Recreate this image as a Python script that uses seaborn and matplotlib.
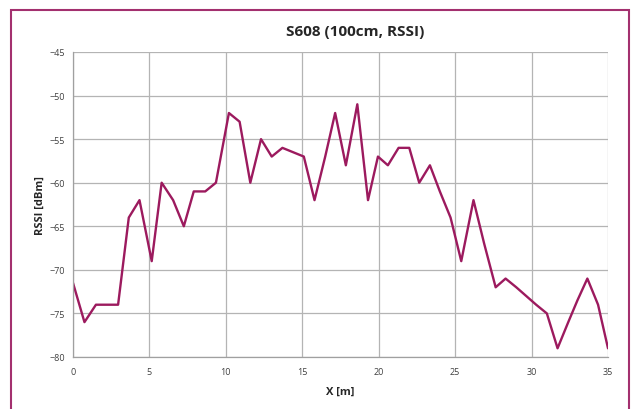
import numpy as np
import pandas as pd
import matplotlib
matplotlib.use("Agg")
import matplotlib.pyplot as plt
import seaborn as sns
from matplotlib.patches import Rectangle

# Distance along the path [m] and measured RSSI [dBm]
x_m = [0, 0.75, 1.5, 2.2, 2.95, 3.65, 4.35, 5.15, 5.8, 6.55,
       7.25, 7.9, 8.65, 9.35, 10.2, 10.9, 11.6, 12.3, 13.0, 13.7,
       14.4, 15.1, 15.8, 16.5, 17.15, 17.85, 18.6, 19.3, 19.95, 20.6,
       21.3, 22.0, 22.65, 23.35, 24.0, 24.7, 25.4, 26.2, 26.9, 27.65,
       28.3, 29.0, 29.65, 30.3, 31.0, 31.7, 32.4, 33.0, 33.65, 34.35,
       35.0, 35.7]
rssi = [-71.5, -76, -74, -74, -74, -64, -62, -69, -60, -62,
        -65, -61, -61, -60, -52, -53, -60, -55, -57, -56,
        -56.5, -57, -62, -57, -52, -58, -51, -62, -57, -58,
        -56, -56, -60, -58, -61, -64, -69, -62, -67, -72,
        -71, -72, -73, -74, -75, -79, -76, -73.5, -71, -74,
        -79, -73]

x_ticks = [0, 5, 10, 15, 20, 25, 30, 35]
y_ticks = [-45, -50, -55, -60, -65, -70, -75, -80]

df = pd.DataFrame({"X": x_m, "RSSI": rssi})

sns.set_style("white")
plt.rcParams["font.family"] = ["Open Sans", "DejaVu Sans"]

line_color = "#9c1a5e"
grid_color = "#b4b4b4"

fig = plt.figure(figsize=(6.32, 4.10), dpi=100)
ax = fig.add_axes([73 / 632, 1 - 358 / 410, 535 / 632, 305 / 410])

sns.lineplot(data=df, x="X", y="RSSI", ax=ax, color=line_color, linewidth=1.7, sort=False)

ax.set_xlim(0, 35)
ax.set_ylim(-80, -45)
ax.set_xticks(x_ticks)
ax.set_yticks(y_ticks)
ax.grid(True, color=grid_color, linewidth=0.9)
ax.set_axisbelow(True)
for side in ["top", "right"]:
    ax.spines[side].set_visible(False)
for side in ["left", "bottom"]:
    ax.spines[side].set_color("#a0a0a0")
    ax.spines[side].set_linewidth(0.9)
ax.tick_params(axis="both", labelsize=6.5, colors="#404040", length=0, pad=6)
ax.tick_params(axis="x", pad=7)

ax.set_xlabel("")
ax.set_ylabel("")
fig.text(340 / 632, 1 - 392 / 410, "X [m]", ha="center", va="center",
         fontsize=8, fontweight="bold", color="#262626")
fig.text(40 / 632, 1 - 206 / 410, "RSSI [dBm]", ha="center", va="center",
         rotation=90, fontsize=8, fontweight="bold", color="#262626")
fig.text(355 / 632, 1 - 32 / 410, "S608 (100cm, RSSI)", ha="center", va="center",
         fontsize=11, fontweight="bold", color="#262626")

# outer chart frame
fig.patches.append(Rectangle((11 / 632, -0.05), 618 / 632, 1 - 11 / 410 + 0.05,
                             transform=fig.transFigure, fill=False,
                             edgecolor="#a3306f", linewidth=1.5))

fig.savefig("out.png", dpi=100)
